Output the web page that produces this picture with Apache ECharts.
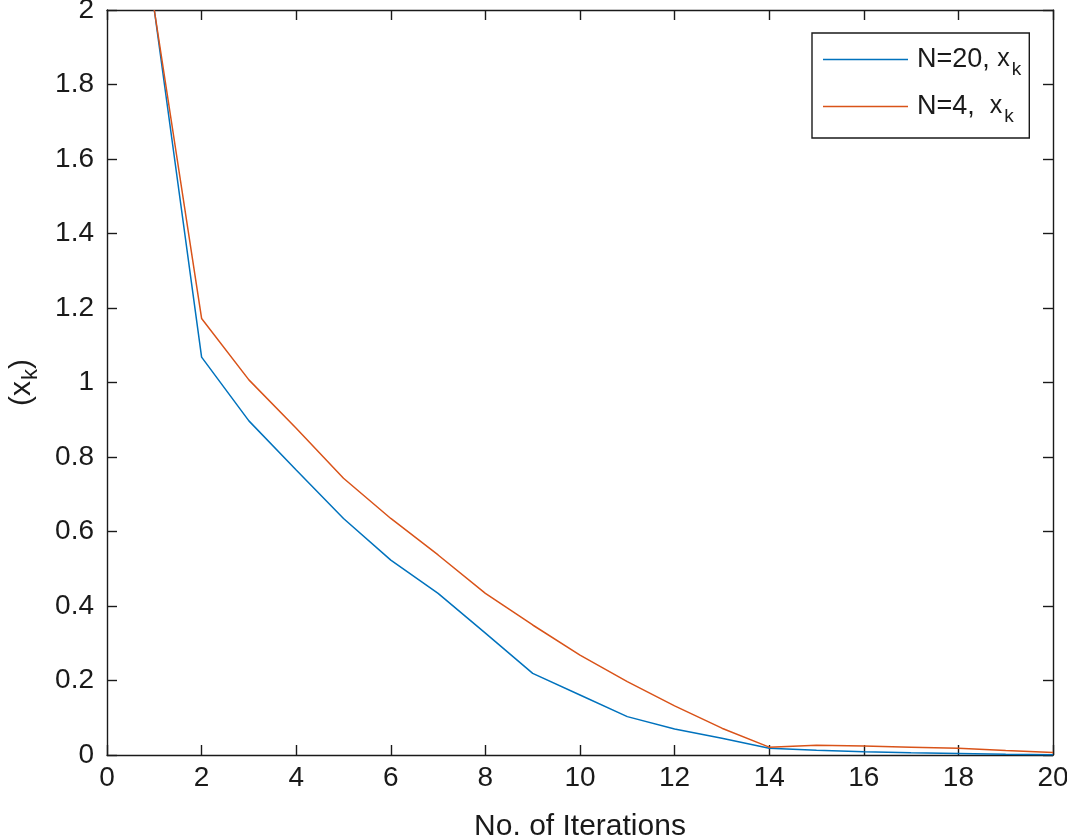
<!DOCTYPE html>
<html>
<head>
<meta charset="utf-8">
<script src="https://cdn.jsdelivr.net/npm/echarts@6/dist/echarts.min.js"></script>
<style>html,body{margin:0;padding:0;background:#fff}#c{width:1067px;height:840px}</style>
</head>
<body>
<div id="c"></div>
<script>
const iterations = [1,2,3,4,5,6,7,8,9,10,11,12,13,14,15,16,17,18,19,20];
const xkN20 = [2.0,1.068,0.897,0.765,0.635,0.523,0.434,0.327,0.219,0.161,0.103,0.070,0.045,0.018,0.013,0.009,0.006,0.004,0.002,0.001];
const xkN4  = [2.0,1.172,1.007,0.877,0.743,0.635,0.537,0.434,0.349,0.268,0.197,0.132,0.072,0.021,0.026,0.024,0.021,0.018,0.012,0.007];
const seriesNames = ['N=20, ', 'N=4,  '];
const xTicks = {min:0, max:20, interval:2};
const yTicks = {min:0, max:2, interval:0.2};

const FONT = 'Liberation Sans, Arial, Helvetica, sans-serif';
const AX = '#1a1a1a';
const chart = echarts.init(document.getElementById('c'), null, {renderer:'canvas'});

function pairs(xs, ys){ return xs.map((x,i)=>[x, ys[i]]); }

const axisCommon = {
  axisLine:{show:true, onZero:false, lineStyle:{color:AX, width:1.4}},
  axisTick:{show:true, inside:true, length:10, lineStyle:{color:AX, width:1.4}},
  splitLine:{show:false}
};

chart.setOption({
  animation:false,
  backgroundColor:'#fff',
  grid:{left:107, right:14, top:10, bottom:85, containLabel:false, outerBoundsMode:'none'},
  xAxis:[
    Object.assign({type:'value', position:'bottom', min:xTicks.min, max:xTicks.max, interval:xTicks.interval,
      name:'No. of Iterations', nameLocation:'middle', nameGap:57,
      nameTextStyle:{fontFamily:FONT, fontSize:30, color:AX},
      axisLabel:{fontFamily:FONT, fontSize:28, color:AX, margin:9}}, axisCommon),
    Object.assign({type:'value', position:'top', min:xTicks.min, max:xTicks.max, interval:xTicks.interval,
      axisLabel:{show:false}}, axisCommon)
  ],
  yAxis:[
    Object.assign({type:'value', position:'left', min:yTicks.min, max:yTicks.max, interval:yTicks.interval,
      name:'{a|(}{x|x}{s|k}{a|)}', nameLocation:'middle', nameGap:65, nameRotate:90,
      nameTextStyle:{fontFamily:FONT, color:AX, rich:{
        a:{fontFamily:FONT, fontSize:30, color:AX},
        x:{fontFamily:FONT, fontSize:30, color:AX},
        s:{fontFamily:FONT, fontSize:22, color:AX, padding:[18,0,0,1]}
      }},
      axisLabel:{fontFamily:FONT, fontSize:28, color:AX, margin:13,
        formatter:v=>String(Math.round(v*10)/10)}}, axisCommon),
    Object.assign({type:'value', position:'right', min:yTicks.min, max:yTicks.max, interval:yTicks.interval,
      axisLabel:{show:false}}, axisCommon)
  ],
  legend:{
    show:true, orient:'vertical', left:812, top:33,
    backgroundColor:'#fff', borderColor:AX, borderWidth:1.4,
    padding:[13,8,12,11], itemGap:14,
    icon:'rect', itemWidth:85, itemHeight:1.5,
    data:seriesNames,
    formatter:n=>'{a|'+n+'}{x|x}{s|k}',
    textStyle:{fontFamily:FONT, color:AX, padding:[0,0,0,4], rich:{
      a:{fontFamily:FONT, fontSize:27, color:AX, lineHeight:32},
      x:{fontFamily:FONT, fontSize:25, color:AX, lineHeight:32},
      s:{fontFamily:FONT, fontSize:19, color:AX, padding:[20,0,0,2]}
    }}
  },
  series:[
    {name:seriesNames[0], type:'line', data:pairs(iterations, xkN20), symbol:'none', showSymbol:false,
     lineStyle:{color:'#0072BD', width:1.5}, itemStyle:{color:'#0072BD'}, clip:true},
    {name:seriesNames[1], type:'line', data:pairs(iterations, xkN4), symbol:'none', showSymbol:false,
     lineStyle:{color:'#D95319', width:1.5}, itemStyle:{color:'#D95319'}, clip:true}
  ]
});
</script>
</body>
</html>
